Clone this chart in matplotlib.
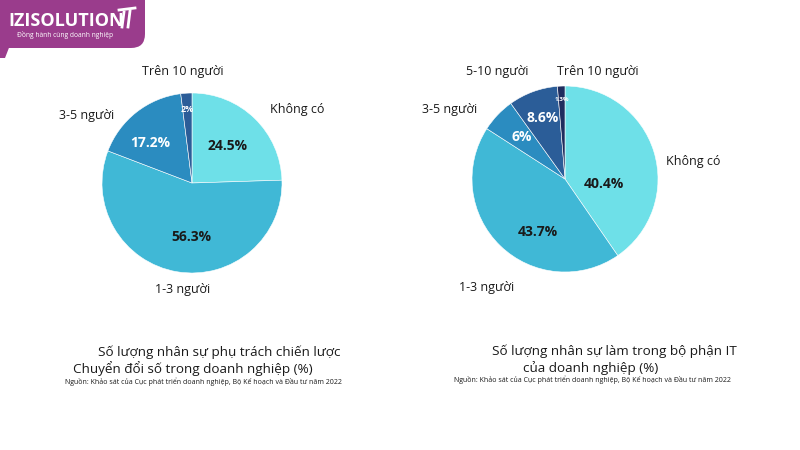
import matplotlib.pyplot as plt
from matplotlib.patches import FancyBboxPatch, Polygon
import numpy as np

# --- data ---
left_cats = ['Không có', '1-3 người', '3-5 người', 'Trên 10 người']
left_vals = [24.5, 56.3, 17.2, 2.0]
left_pct = ['24.5%', '56.3%', '17.2%', '2%']

right_cats = ['Không có', '1-3 người', '3-5 người', '5-10 người', 'Trên 10 người']
right_vals = [40.4, 43.7, 6.0, 8.6, 1.3]
right_pct = ['40.4%', '43.7%', '6%', '8.6%', '1.3%']

left_title = ['Số lượng nhân sự phụ trách chiến lược', 'Chuyển đổi số trong doanh nghiệp (%)']
right_title = ['Số lượng nhân sự làm trong bộ phận IT', 'của doanh nghiệp (%)']
source = 'Nguồn: Khảo sát của Cục phát triển doanh nghiệp, Bộ Kế hoạch và Đầu tư năm 2022'

# --- style ---
plt.rcParams['font.family'] = ['Open Sans', 'DejaVu Sans']
W, H = 800, 450
C_NONE = '#6ee0e8'
C_13 = '#40b8d6'
C_35 = '#2b8cc0'
C_510 = '#2b5d98'
C_10 = '#1f2d5e'
left_colors = [C_NONE, C_13, C_35, C_510]
right_colors = [C_NONE, C_13, C_35, C_510, C_10]
TXT = '#1a1a1a'

fig = plt.figure(figsize=(8, 4.5), dpi=100)
bg = fig.add_axes([0, 0, 1, 1])
bg.set_xlim(0, W)
bg.set_ylim(H, 0)
bg.axis('off')


def pie_axes(cx, cy, r):
    return fig.add_axes([(cx - r) / W, (H - cy - r) / H, 2 * r / W, 2 * r / H])


def draw_pie(ax, vals, colors, pcts, pct_r, pct_da, pct_col, pct_fs):
    wedges, _ = ax.pie(vals, colors=colors, startangle=90, counterclock=False,
                       radius=1, wedgeprops=dict(edgecolor='white', linewidth=0.4))
    ax.set_xlim(-1, 1)
    ax.set_ylim(-1, 1)
    ax.axis('off')
    for w, s, r, da, c, fs in zip(wedges, pcts, pct_r, pct_da, pct_col, pct_fs):
        mid = np.deg2rad((w.theta1 + w.theta2) / 2 + da)
        ax.text(r * np.cos(mid), r * np.sin(mid), s, ha='center', va='center',
                color=c, fontsize=fs, fontweight='bold')


# left pie
axl = pie_axes(192, 183, 90)
draw_pie(axl, left_vals, left_colors, left_pct,
         [0.57, 0.6, 0.64, 0.82],
         [0, 9, 8, 0],
         [TXT, TXT, 'white', 'white'],
         [10, 10, 10, 6.5])

# right pie
axr = pie_axes(565, 179, 93)
draw_pie(axr, right_vals, right_colors, right_pct,
         [0.42, 0.64, 0.65, 0.70, 0.86],
         [-24, 17, 0, 0, 0],
         [TXT, TXT, 'white', 'white', 'white'],
         [10, 10, 10, 10, 4.5])

# category labels
lab_fs = 9
for s, x, y in zip(left_cats, [297, 183, 87, 183], [110, 290, 115, 72]):
    bg.text(x, y, s, ha='center', va='center', fontsize=lab_fs, color=TXT)
for s, x, y in zip(right_cats, [693, 487, 450, 497, 598], [162, 287, 110, 72, 72]):
    bg.text(x, y, s, ha='center', va='center', fontsize=lab_fs, color=TXT)

# captions
for s, x, y in zip(left_title, [219, 193], [352, 369]):
    bg.text(x, y, s, ha='center', va='center', fontsize=9.7, color=TXT)
bg.text(203, 382, source, ha='center', va='center', fontsize=5.0, color=TXT)
for s, x, y in zip(right_title, [614, 591], [351, 368]):
    bg.text(x, y, s, ha='center', va='center', fontsize=9.7, color=TXT)
bg.text(592, 380, source, ha='center', va='center', fontsize=5.0, color=TXT)

# logo
purple = '#9a3c8c'
bg.add_patch(FancyBboxPatch((-20, -20), 165, 68, boxstyle='round,pad=0,rounding_size=14',
                            facecolor=purple, edgecolor='none'))
bg.add_patch(Polygon([[0, 40], [12, 40], [5, 58], [0, 58]], closed=True,
                     facecolor=purple, edgecolor='none'))
bg.text(8, 21, 'IZISOLUTION', ha='left', va='center', fontsize=13,
        fontweight='bold', color='white')
bg.plot([124, 122], [12, 27], color='white', lw=2)
bg.plot([130, 128], [11, 27], color='white', lw=2)
bg.plot([119, 135], [10, 8], color='white', lw=2)
bg.text(17, 35, 'Đồng hành cùng doanh nghiệp', ha='left', va='center', fontsize=4.8,
        color='white')

fig.savefig('out.png', dpi=100)
